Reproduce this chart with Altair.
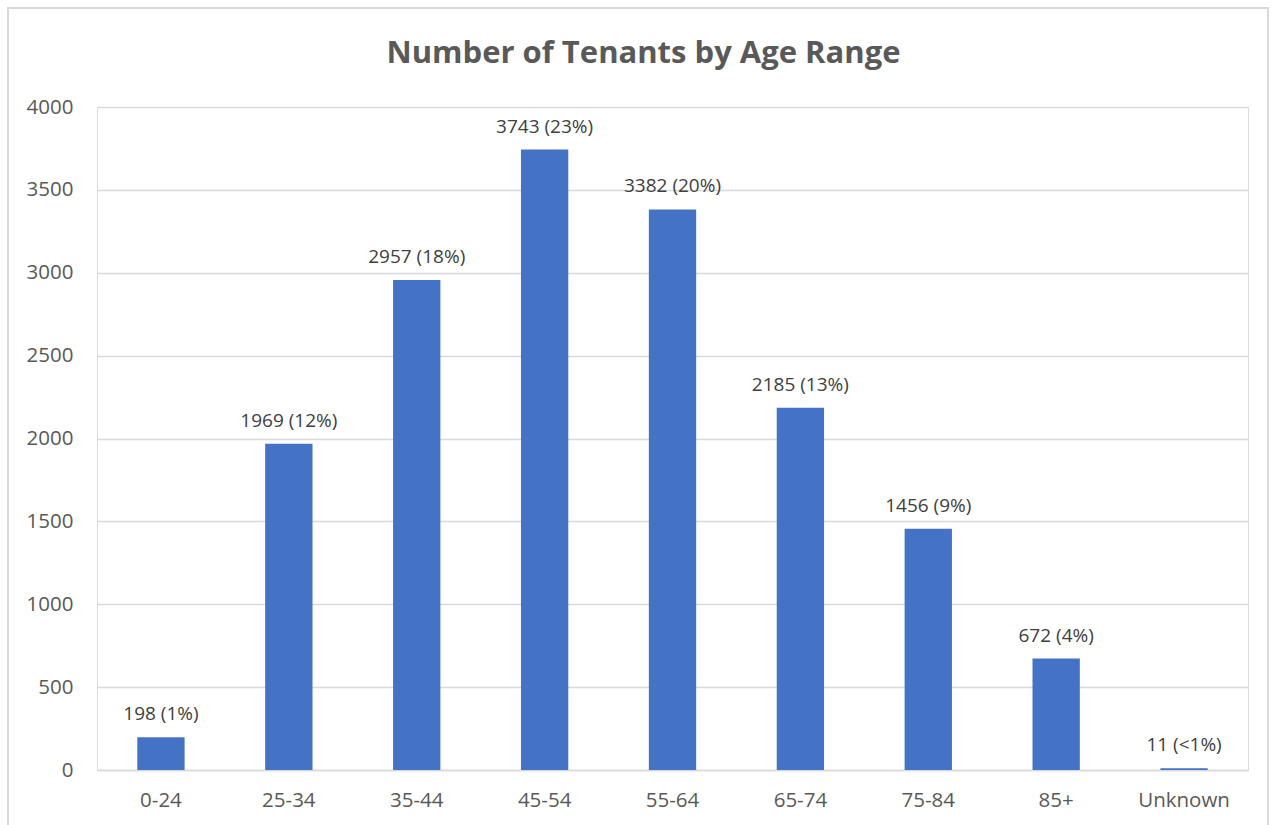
import altair as alt
import pandas as pd

categories = ["0-24", "25-34", "35-44", "45-54", "55-64", "65-74", "75-84", "85+", "Unknown"]
values = [198, 1969, 2957, 3743, 3382, 2185, 1456, 672, 11]
pct_labels = ["1%", "12%", "18%", "23%", "20%", "13%", "9%", "4%", "<1%"]
y_ticks = [0, 500, 1000, 1500, 2000, 2500, 3000, 3500, 4000]

df = pd.DataFrame({
    "age": categories,
    "count": values,
    "label": [f"{v} ({p})" for v, p in zip(values, pct_labels)],
})

FONT = "Open Sans"

x = alt.X("age:N", sort=categories, title=None,
          scale=alt.Scale(paddingInner=0.63, paddingOuter=0.315),
          axis=alt.Axis(labelAngle=0, labelFontSize=20.5, labelColor="#595959",
                        labelFont=FONT, domain=True, domainColor="#d9d9d9",
                        domainWidth=1.3, ticks=False, labelPadding=20, grid=False))
y = alt.Y("count:Q", title=None,
          scale=alt.Scale(domain=[0, 4000], nice=False),
          axis=alt.Axis(values=y_ticks, labelFontSize=20.5, labelColor="#595959",
                        labelFont=FONT, domain=False, ticks=False, labelPadding=24,
                        gridColor="#d9d9d9", gridWidth=1.3, format="d"))

bars = alt.Chart(df).mark_bar(color="#4472C4").encode(x=x, y=y)

text = alt.Chart(df).mark_text(baseline="bottom", dy=-13, fontSize=19,
                               font=FONT, color="#404040").encode(
    x=alt.X("age:N", sort=categories), y="count:Q", text="label:N")

border = alt.Chart(df).mark_rect(fill=None, stroke="#d9d9d9", strokeWidth=1.5).encode(
    x=alt.value(-89), x2=alt.value(1171), y=alt.value(-99), y2=alt.value(830))

chart = alt.layer(border, bars, text).properties(
    width=1151, height=663,
    title=alt.TitleParams("Number of Tenants by Age Range", fontSize=31, font=FONT,
                          fontWeight="bold", color="#595959", anchor="middle",
                          dx=-29, offset=-63),
    autosize=alt.AutoSizeParams(type="none"),
    padding={"left": 97, "top": 107, "right": 32, "bottom": 55},
).configure_view(stroke=None).configure(background="white")

chart.save("out.html", embed_options={"renderer": "svg", "actions": False})
